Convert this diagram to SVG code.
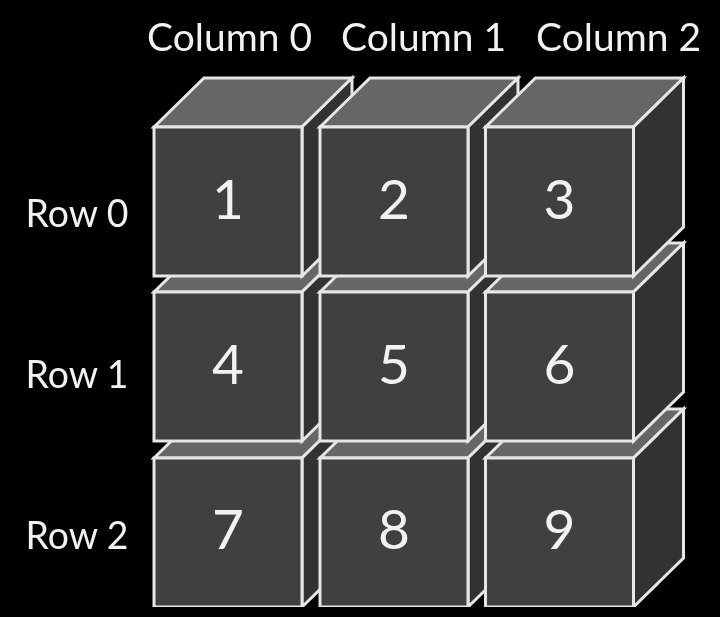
<svg xmlns="http://www.w3.org/2000/svg" xmlns:xlink="http://www.w3.org/1999/xlink" width="720" height="617" viewBox="0 0 720 617">
<style>
.top{fill:#666}.side{fill:#333}.front{fill:#404040}
.e{stroke:#e6e6e6;stroke-width:3;stroke-linejoin:miter}
text{font-family:"Lato","DejaVu Sans",sans-serif;fill:#f2f2f2}
.l{font-size:38.500px;text-anchor:middle}
.n{font-size:55px;text-anchor:middle}
</style>
<defs>
<g id="cube">
<path class="top e" d="M0 0L50-49H198L148 0Z"/>
<path class="side e" d="M148 0L198-49V100L148 149Z"/>
<rect class="front e" width="148" height="149"/>
</g>
<filter id="soft" x="0" y="0" width="100%" height="100%"><feGaussianBlur stdDeviation="0.6"/></filter>
</defs>
<rect width="720" height="617" fill="#000"/>
<g filter="url(#soft)">
<path d="M684 196Q705 190 720 192V375L687 353Z" fill="#060606"/>
<g id="connectors"/>
<g id="cube7" transform="translate(154 458)"><use xlink:href="#cube"/><text class="n" x="74" y="91">7</text></g>
<g id="cube8" transform="translate(320 458)"><use xlink:href="#cube"/><text class="n" x="74" y="91">8</text></g>
<g id="cube9" transform="translate(485.500 458)"><use xlink:href="#cube"/><text class="n" x="74" y="91">9</text></g>
<g id="cube4" transform="translate(154 292)"><use xlink:href="#cube"/><text class="n" x="74" y="92">4</text></g>
<g id="cube5" transform="translate(320 292)"><use xlink:href="#cube"/><text class="n" x="74" y="92">5</text></g>
<g id="cube6" transform="translate(485.500 292)"><use xlink:href="#cube"/><text class="n" x="74" y="92">6</text></g>
<g id="cube1" transform="translate(154 127)"><use xlink:href="#cube"/><text class="n" x="74" y="92">1</text></g>
<g id="cube2" transform="translate(320 127)"><use xlink:href="#cube"/><text class="n" x="74" y="92">2</text></g>
<g id="cube3" transform="translate(485.500 127)"><use xlink:href="#cube"/><text class="n" x="74" y="92">3</text></g>
<g id="col0"><text class="l" x="229.500" y="51" textLength="165" lengthAdjust="spacingAndGlyphs">Column 0</text></g>
<g id="col1"><text class="l" x="423.500" y="51" textLength="165" lengthAdjust="spacingAndGlyphs">Column 1</text></g>
<g id="col2"><text class="l" x="618.500" y="51" textLength="165" lengthAdjust="spacingAndGlyphs">Column 2</text></g>
<g id="row0"><text class="l" x="77" y="227" textLength="103" lengthAdjust="spacingAndGlyphs">Row 0</text></g>
<g id="row1"><text class="l" x="77" y="388" textLength="103" lengthAdjust="spacingAndGlyphs">Row 1</text></g>
<g id="row2"><text class="l" x="77" y="549" textLength="103" lengthAdjust="spacingAndGlyphs">Row 2</text></g>
</g>
</svg>
